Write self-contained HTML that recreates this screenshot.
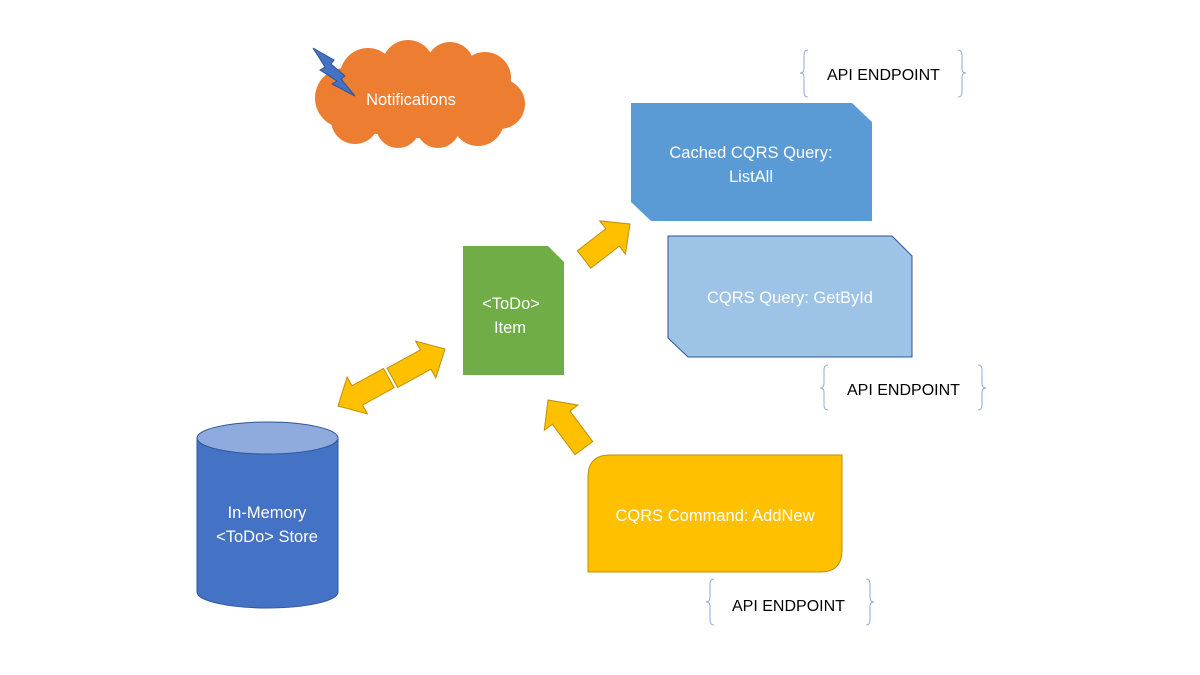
<!DOCTYPE html>
<html><head><meta charset="utf-8"><style>
html,body{margin:0;padding:0;background:#fff;}
svg{display:block;}
text{font-family:"Liberation Sans",sans-serif;}
</style></head><body>
<svg width="1200" height="675" viewBox="0 0 1200 675" xmlns="http://www.w3.org/2000/svg">
<!-- cloud -->
<g fill="#ed7d31">
<ellipse cx="420" cy="98" rx="100" ry="40"/>
<circle cx="345" cy="98" r="30"/>
<circle cx="368" cy="76" r="28"/>
<circle cx="408" cy="66" r="26"/>
<circle cx="450" cy="66" r="24"/>
<circle cx="485" cy="78" r="26"/>
<circle cx="500" cy="104" r="25"/>
<circle cx="478" cy="120" r="26"/>
<circle cx="438" cy="126" r="22"/>
<circle cx="398" cy="126" r="22"/>
<circle cx="355" cy="120" r="24"/>
</g>
<polygon points="313,48 334,60 331,64 345,76 341,79 355,96 332,84 337,81 320,70 325,67" fill="#4472c4" stroke="#2f5597" stroke-width="1"/>
<text x="411" y="105" fill="#fff" font-size="16.5" text-anchor="middle">Notifications</text>

<!-- blue box 1 -->
<polygon points="631,103 852,103 872,122 872,221 651,221 631,202" fill="#5b9bd5"/>
<text x="751" y="158" fill="#fff" font-size="16.5" text-anchor="middle">Cached CQRS Query:</text>
<text x="751" y="182" fill="#fff" font-size="16.5" text-anchor="middle">ListAll</text>

<!-- blue box 2 -->
<polygon points="668,236 892,236 912,256 912,357 688,357 668,338" fill="#9dc3e6" stroke="#2f5597" stroke-width="1"/>
<text x="790" y="303" fill="#fff" font-size="16.5" text-anchor="middle">CQRS Query: GetById</text>

<!-- green -->
<polygon points="463,246 548,246 564,262 564,375 463,375" fill="#70ad47"/>
<text x="511" y="309" fill="#fff" font-size="16.5" text-anchor="middle">&lt;ToDo&gt;</text>
<text x="510" y="333" fill="#fff" font-size="16.5" text-anchor="middle">Item</text>

<!-- yellow -->
<path d="M610,455 H842 V550 Q842,572 820,572 H588 V477 Q588,455 610,455 Z" fill="#ffc000" stroke="#bf9000" stroke-width="1"/>
<text x="715" y="521" fill="#fff" font-size="16.5" text-anchor="middle">CQRS Command: AddNew</text>

<!-- cylinder -->
<path d="M197,438 V592 A70.5,16 0 0 0 338,592 V438 Z" fill="#4472c4" stroke="#2f5597" stroke-width="1"/>
<ellipse cx="267.5" cy="438" rx="70.5" ry="16" fill="#8faadc" stroke="#2f5597" stroke-width="1"/>
<text x="267" y="518" fill="#fff" font-size="16.5" text-anchor="middle">In-Memory</text>
<text x="267" y="542" fill="#fff" font-size="16.5" text-anchor="middle">&lt;ToDo&gt; Store</text>

<!-- arrows -->
<g fill="#ffc000" stroke="#bf9000" stroke-width="1">
<polygon transform="translate(445,349) rotate(-28.7)" points="0,0 -22,-21 -22,-11 -60,-11 -60,11 -22,11 -22,21"/>
<polygon transform="translate(338,406) rotate(151.2)" points="0,0 -22,-21 -22,-11 -58,-11 -58,11 -22,11 -22,21"/>
<polygon transform="translate(548,400) rotate(-126.7)" points="0,0 -22,-21 -22,-11 -60,-11 -60,11 -22,11 -22,21"/>
<polygon transform="translate(630,224) rotate(-37.7)" points="0,0 -22,-21 -22,-11 -58,-11 -58,11 -22,11 -22,21"/>
</g>

<!-- braces -->
<g fill="none" stroke="#8faadc" stroke-width="1">
<path d="M808,50 Q804,50 804,55 V69 Q804,73 800,73 Q804,73 804,77 V92 Q804,97 808,97"/>
<path d="M958,50 Q962,50 962,55 V69 Q962,73 966,73 Q962,73 962,77 V92 Q962,97 958,97"/>
<path d="M828,365 Q824,365 824,370 V383 Q824,388 820,388 Q824,388 824,392 V405 Q824,410 828,410"/>
<path d="M978,365 Q982,365 982,370 V383 Q982,388 986,388 Q982,388 982,392 V405 Q982,410 978,410"/>
<path d="M714,579 Q710,579 710,584 V597 Q710,602 706,602 Q710,602 710,606 V620 Q710,625 714,625"/>
<path d="M866,579 Q870,579 870,584 V597 Q870,602 874,602 Q870,602 870,606 V620 Q870,625 866,625"/>
</g>
<g font-size="16" fill="#000">
<text x="827" y="80">API ENDPOINT</text>
<text x="847" y="395">API ENDPOINT</text>
<text x="732" y="611">API ENDPOINT</text>
</g>
</svg>
</body></html>
